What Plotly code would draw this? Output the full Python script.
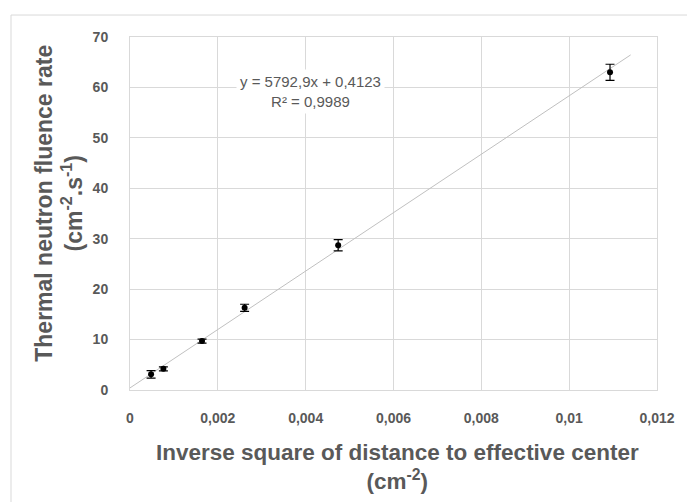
import plotly.graph_objects as go

x_vals = [0.00048, 0.00076, 0.00164, 0.00261, 0.00474, 0.01093]
y_vals = [3.1, 4.2, 9.7, 16.3, 28.7, 63.0]
y_err = [0.75, 0.4, 0.4, 0.7, 1.1, 1.6]

slope = 5792.9
intercept = 0.4123
trend_x = [0.0, 0.0114]
trend_y = [slope * v + intercept for v in trend_x]

x_ticks = [0, 0.002, 0.004, 0.006, 0.008, 0.01, 0.012]
x_tick_labels = ["<b>0</b>", "<b>0,002</b>", "<b>0,004</b>", "<b>0,006</b>",
                 "<b>0,008</b>", "<b>0,01</b>", "<b>0,012</b>"]
y_ticks = [0, 10, 20, 30, 40, 50, 60, 70]
y_tick_labels = ["<b>%d</b>" % v for v in y_ticks]

grey = "#595959"
grid = "#d9d9d9"
fam = "Liberation Sans, Arial, sans-serif"

fig = go.Figure()
fig.add_trace(go.Scatter(x=trend_x, y=trend_y, mode="lines",
                         line=dict(color="#c0c0c0", width=1), hoverinfo="skip"))
fig.add_trace(go.Scatter(x=x_vals, y=y_vals, mode="markers",
                         marker=dict(color="black", size=6, symbol="circle"),
                         error_y=dict(type="data", array=y_err, color="black",
                                      thickness=1.2, width=4.5)))

fig.update_layout(
    width=687, height=502,
    margin=dict(l=130, r=30, t=37, b=111.5),
    paper_bgcolor="white", plot_bgcolor="white",
    showlegend=False,
    font=dict(family=fam, color=grey),
    xaxis=dict(range=[0, 0.012], tickvals=x_ticks, ticktext=x_tick_labels,
               showgrid=True, gridcolor=grid, gridwidth=1,
               showline=True, linecolor=grid, linewidth=1, mirror=True,
               zeroline=False, ticks="", ticklabelstandoff=15,
               tickfont=dict(size=14, color=grey, family=fam)),
    yaxis=dict(range=[0, 70], tickvals=y_ticks, ticktext=y_tick_labels,
               showgrid=True, gridcolor=grid, gridwidth=1,
               showline=True, linecolor=grid, linewidth=1, mirror=True,
               zeroline=False, ticks="", ticklabelstandoff=18,
               tickfont=dict(size=14, color=grey, family=fam)),
    shapes=[dict(type="rect", xref="paper", yref="paper",
                 x0=-(130 - 11) / 527, x1=(687 - 130 + 5) / 527,
                 y0=-(502 - 390.5 + 5) / 353.5, y1=(390.5 - 15) / 353.5,
                 line=dict(color=grid, width=1), layer="below")],
    annotations=[
        dict(text="<b>Thermal neutron fluence rate</b><br><b>(cm<sup>-2</sup>.s<sup>-1</sup>)</b>",
             xref="paper", yref="paper", x=(59 - 130) / 527, y=(390.5 - 204) / 353.5,
             xanchor="center", yanchor="middle", textangle=-90, showarrow=False,
             font=dict(size=23, color=grey, family=fam)),
        dict(text="<b>Inverse square of distance to effective center</b><br><b>(cm<sup>-2</sup>)</b>",
             xref="paper", yref="paper", x=(397 - 130) / 527, y=-(468 - 390.5) / 353.5,
             xanchor="center", yanchor="middle", showarrow=False,
             font=dict(size=22.5, color=grey, family=fam)),
        dict(text="y = 5792,9x + 0,4123<br>R² = 0,9989",
             xref="paper", yref="paper", x=(310 - 130) / 527, y=(390.5 - 92) / 353.5,
             xanchor="center", yanchor="middle", showarrow=False,
             bgcolor="white", borderpad=3,
             font=dict(size=15, color=grey, family=fam)),
    ],
)

fig.write_html("out.html")
